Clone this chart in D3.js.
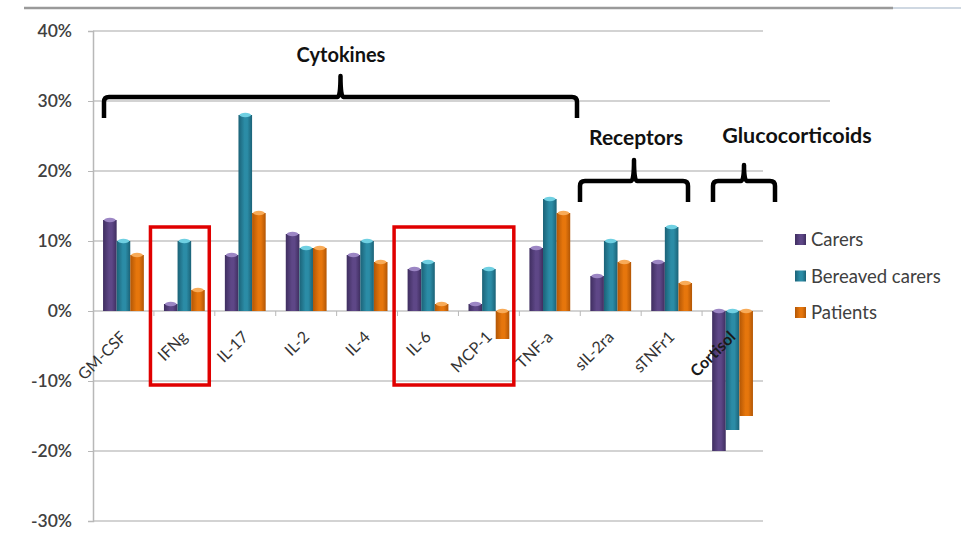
<!DOCTYPE html>
<html><head><meta charset="utf-8">
<script src="https://cdnjs.cloudflare.com/ajax/libs/d3/7.8.5/d3.min.js"></script>
<style>body{margin:0;background:#fff;} svg{display:block;font-family:Lato,"Open Sans",sans-serif;}</style>
</head><body>
<svg id="chart" width="961" height="540"></svg>
<script>
const categories = ["GM-CSF","IFNg","IL-17","IL-2","IL-4","IL-6","MCP-1","TNF-a","sIL-2ra","sTNFr1","Cortisol"];
const seriesNames = ["Carers","Bereaved carers","Patients"];
const carers   = [0.13,0.01,0.08,0.11,0.08,0.06,0.01,0.09,0.05,0.07,-0.20];
const bereaved = [0.10,0.10,0.28,0.09,0.10,0.07,0.06,0.16,0.10,0.12,-0.17];
const patients = [0.08,0.03,0.14,0.09,0.07,0.01,-0.04,0.14,0.07,0.04,-0.15];
const yTicks = [-0.3,-0.2,-0.1,0,0.1,0.2,0.3,0.4];
const groups = [
  {label:"Cytokines", from:"GM-CSF", to:"TNF-a"},
  {label:"Receptors", from:"sIL-2ra", to:"sTNFr1"},
  {label:"Glucocorticoids", from:"Cortisol", to:"Cortisol"}
];
const highlighted = [["IFNg","IFNg"],["IL-6","MCP-1"]];

(function(){
const seriesValues = [carers, bereaved, patients];
const colors = ["#5e4787","#2b8ca6","#e6760c"];
const lightColors = ["#9c86c4","#6fd0e2","#f8ab58"];
const darkColors = ["#3f2e60","#1b6277","#b25605"];

const svg = d3.select("#chart");
const pl = 93, pr = 763, pt = 31, pb = 521;
const y = d3.scaleLinear().domain([-0.3,0.4]).range([pb, pt]);
const x = d3.scaleBand().domain(categories).range([pl, pr]).paddingInner(0.33).paddingOuter(0.165);
const xs = d3.scaleBand().domain(seriesNames).range([0, x.bandwidth()]);

const defs = svg.append("defs");
colors.forEach((c,i)=>{
  const g = defs.append("linearGradient").attr("id","grad"+i).attr("x1","0").attr("x2","1").attr("y1","0").attr("y2","0");
  g.append("stop").attr("offset","0%").attr("stop-color",darkColors[i]);
  g.append("stop").attr("offset","45%").attr("stop-color",c);
  g.append("stop").attr("offset","65%").attr("stop-color",c);
  g.append("stop").attr("offset","100%").attr("stop-color",darkColors[i]);
});

svg.append("line").attr("x1",24).attr("x2",893).attr("y1",8).attr("y2",8).attr("stroke","#9a9a9a").attr("stroke-width",2.5);
svg.append("line").attr("x1",893).attr("x2",961).attr("y1",8).attr("y2",8).attr("stroke","#cfd8e2").attr("stroke-width",2);

svg.append("g").selectAll("line").data(yTicks).join("line")
  .attr("x1",pl).attr("x2",d=>Math.abs(d-0.3)<1e-9?830:pr)
  .attr("y1",d=>y(d)).attr("y2",d=>y(d))
  .attr("stroke","#c4c4c4").attr("stroke-width",1.3);

const yAxis = d3.axisLeft(y).tickValues(yTicks).tickFormat(d=>Math.round(d*100)+"%").tickSize(5).tickPadding(16);
const ya = svg.append("g").attr("transform",`translate(${pl},0)`).call(yAxis);
ya.select(".domain").attr("stroke","#b8b8b8").attr("stroke-width",1.5);
ya.selectAll(".tick line").attr("stroke","#b8b8b8");
ya.selectAll(".tick text").attr("fill","#404040").attr("font-size",17.5).attr("font-weight",600).attr("font-family","Lato,sans-serif");

const boundaries = categories.slice(1).map(c=>x(c)-x.step()*x.paddingInner()/2);
svg.append("g").selectAll("line").data(boundaries).join("line")
  .attr("x1",d=>d).attr("x2",d=>d).attr("y1",y(0)).attr("y2",y(0)+5)
  .attr("stroke","#b8b8b8").attr("stroke-width",1);

const data = [];
categories.forEach((c,ci)=>seriesNames.forEach((s,si)=>data.push({c,s,si,v:seriesValues[si][ci]})));
const bars = svg.append("g");
bars.selectAll("rect").data(data).join("rect")
  .attr("x",d=>x(d.c)+xs(d.s))
  .attr("width",xs.bandwidth())
  .attr("y",d=>Math.min(y(d.v),y(0)))
  .attr("height",d=>Math.abs(y(d.v)-y(0)))
  .attr("fill",d=>`url(#grad${d.si})`);
bars.selectAll("ellipse").data(data).join("ellipse")
  .attr("cx",d=>x(d.c)+xs(d.s)+xs.bandwidth()/2)
  .attr("cy",d=>Math.min(y(d.v),y(0)))
  .attr("rx",xs.bandwidth()/2-1).attr("ry",2.2)
  .attr("fill",d=>lightColors[d.si]);

svg.append("g").selectAll("text").data(categories).join("text")
  .attr("transform",d=>`translate(${x(d)+x.bandwidth()/2-4},${y(0)+19}) rotate(-45)`)
  .attr("text-anchor","end")
  .attr("dy","0.71em")
  .attr("font-size",16)
  .attr("fill",d=>d==="Cortisol"?"#1a1a1a":"#333")
  .attr("font-weight",d=>d==="Cortisol"?700:400)
  .text(d=>d);

svg.append("g").selectAll("rect").data(highlighted).join("rect")
  .attr("x",d=>x(d[0])-13.5)
  .attr("width",d=>x(d[1])+x.bandwidth()-x(d[0])+18)
  .attr("y",y(0.12)).attr("height",y(-0.10)-y(0.12)+4)
  .attr("fill","none").attr("stroke","#e00000").attr("stroke-width",3.5);

function bracePath(x0,x1,yh,yEnd,yPeak,xm){
  const r=5;
  return `M${x0},${yEnd} L${x0},${yh+r} Q${x0},${yh} ${x0+r},${yh} L${xm-3},${yh} Q${xm},${yh} ${xm},${yPeak+2} Q${xm},${yh} ${xm+3},${yh} L${x1-r},${yh} Q${x1},${yh} ${x1},${yh+r} L${x1},${yEnd}`;
}
const braceSpecs = [
  {yh:97, yEnd:118, yPeak:74, x0:104, x1:577, tx:341, ty:62, fs:20},
  {yh:181, yEnd:202, yPeak:158, x0:580, x1:688, tx:636, ty:145, fs:21},
  {yh:181, yEnd:202, yPeak:163, x0:713, x1:775, tx:797, ty:143, fs:21.5}
];
braceSpecs.forEach((b,i)=>{
  const xm=(b.x0+b.x1)/2;
  svg.append("path").attr("d",bracePath(b.x0,b.x1,b.yh,b.yEnd,b.yPeak,xm))
    .attr("fill","none").attr("stroke","#000").attr("stroke-width",4.5).attr("stroke-linejoin","round");
  svg.append("text").attr("x",b.tx).attr("y",b.ty).attr("text-anchor","middle").attr("font-size",b.fs).attr("font-weight",700).attr("fill","#111").text(groups[i].label);
});

const lg = svg.append("g").attr("transform","translate(795,234)");
const li = lg.selectAll("g").data(seriesNames).join("g").attr("transform",(d,i)=>`translate(0,${i*36.5})`);
li.append("rect").attr("width",11).attr("height",11).attr("fill",(d,i)=>`url(#grad${i})`);
li.append("text").attr("x",16).attr("y",12).attr("font-size",18.5).attr("fill","#404040").text(d=>d);
})();
</script>
</body></html>
